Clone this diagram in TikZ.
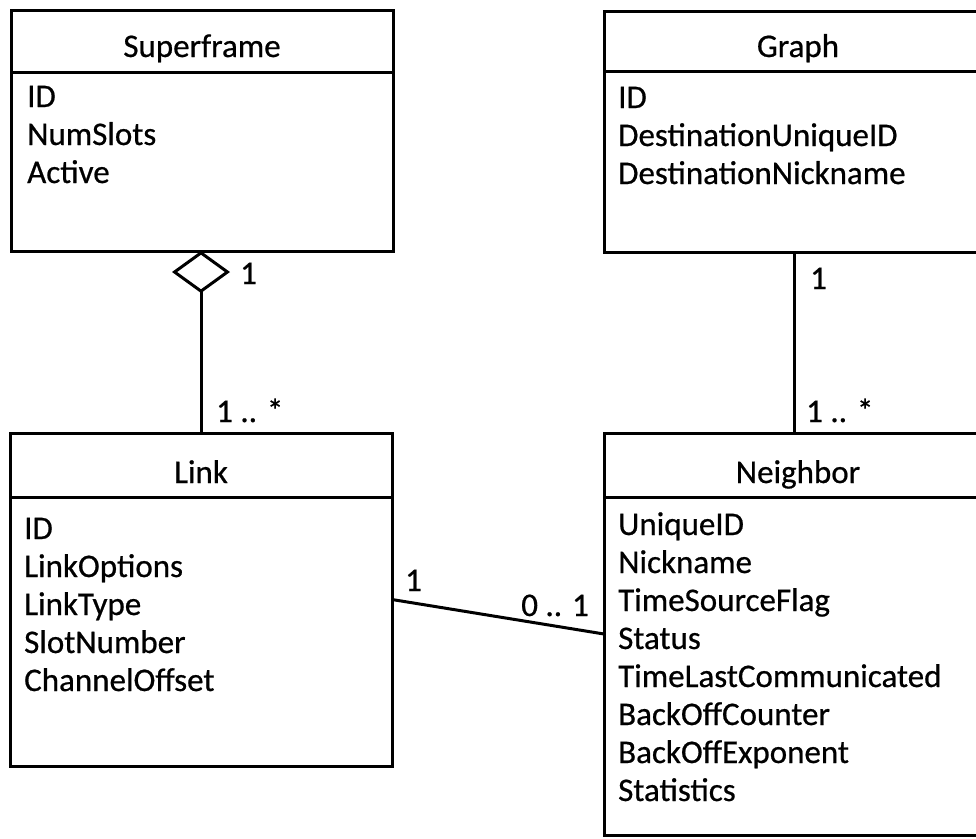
\documentclass[tikz,border=0pt]{standalone}
\usepackage{fontspec}
\setmainfont{Carlito}[FakeBold=0.6]
\usetikzlibrary{arrows.meta}
\begin{document}
\begin{tikzpicture}[x=1pt,y=-1pt,
  classbox/.style={draw, line width=3pt, rectangle, inner sep=0pt, outer sep=0pt, anchor=north west},
  txt/.style={inner sep=0pt, font=\fontsize{33}{38}\selectfont},
  classname/.style={txt, anchor=base},
  attr/.style={txt, anchor=base west},
  mult/.style={txt, anchor=base west},
  divider/.style={line width=3pt},
  assoc/.style={line width=3pt},
  aggregation/.style={assoc, -{Diamond[open, length=42pt, width=58pt]}}]
\useasboundingbox (0,0) rectangle (976,838);
\clip (0,0) rectangle (976,838);

% Superframe
\node[classbox, minimum width=382pt, minimum height=241pt] (sf) at (11,10) {};
\node[classname] (sf-name) at (202,57) {Superframe};
\coordinate (sf-div) at (0,72);
\draw[divider] (sf.west |- sf-div) -- (sf.east |- sf-div);
\foreach \t [count=\i] in {ID,NumSlots,Active}
  \node[attr] (sf-a\i) at (27,69+38*\i) {\t};

% Graph
\node[classbox, minimum width=388pt, minimum height=241pt] (gr) at (604,11) {};
\node[classname] (gr-name) at (798,57) {Graph};
\coordinate (gr-div) at (0,71);
\draw[divider] (gr.west |- gr-div) -- (gr.east |- gr-div);
\foreach \t [count=\i] in {ID,DestinationUniqueID,DestinationNickname}
  \node[attr] (gr-a\i) at (618,70+38*\i) {\t};

% Link
\node[classbox, minimum width=382pt, minimum height=333pt] (lk) at (10,433) {};
\node[classname] (lk-name) at (201,483) {Link};
\coordinate (lk-div) at (0,497);
\draw[divider] (lk.west |- lk-div) -- (lk.east |- lk-div);
\foreach \t [count=\i] in {ID,LinkOptions,LinkType,SlotNumber,ChannelOffset}
  \node[attr] (lk-a\i) at (24,501+38*\i) {\t};

% Neighbor
\node[classbox, minimum width=388pt, minimum height=402pt] (nb) at (604,433) {};
\node[classname] (nb-name) at (798,483) {Neighbor};
\coordinate (nb-div) at (0,497);
\draw[divider] (nb.west |- nb-div) -- (nb.east |- nb-div);
\foreach \t [count=\i] in {UniqueID,Nickname,TimeSourceFlag,Status,TimeLastCommunicated,BackOffCounter,BackOffExponent,Statistics}
  \node[attr] (nb-a\i) at (618,497+38*\i) {\t};

% Associations
\draw[aggregation] (lk.north) -- (lk.north |- sf.south);
\node[mult] (m-sf) at (240,284) {1};
\node[mult] (m-lk) at (216,422) {1 .. *};

\draw[assoc] ([xshift=-4pt]gr.south) -- ([xshift=-4pt]nb.north);
\node[mult] (m-gr) at (810,289) {1};
\node[mult] (m-nb) at (806,422) {1 .. *};

\draw[assoc] (lk.east) -- (nb.west);
\node[mult] (m-lk2) at (405,591) {1};
\node[mult, anchor=base east] (m-nb2) at (589,616) {0 .. 1};
\end{tikzpicture}
\end{document}
